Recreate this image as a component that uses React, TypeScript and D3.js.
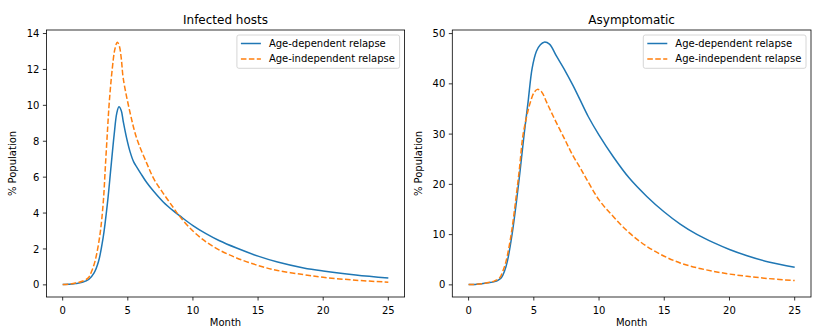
import React from "react";
import * as d3 from "d3";

const W = 823;
const H = 336;

const seriesNames = ["Age-dependent relapse", "Age-independent relapse"];
const xTicks = [0, 5, 10, 15, 20, 25];
const leftYTicks = [0, 2, 4, 6, 8, 10, 12, 14];
const rightYTicks = [0, 10, 20, 30, 40, 50];

// Infected hosts - age-dependent
const infDepT = [0, 0.5, 1, 1.5, 2, 2.4, 2.75, 3.1, 3.45, 3.7, 3.95, 4.15, 4.32, 4.5, 4.65, 4.9, 5.17, 5.45, 5.7, 6, 6.45, 7, 7.72, 8.5, 9, 10, 11, 12, 13.35, 15, 16.5, 18.5, 20, 22.5, 25];
const infDepV = [0.02, 0.03, 0.07, 0.14, 0.3, 0.65, 1.3, 2.6, 4.64, 6.5, 8.35, 9.55, 9.92, 9.7, 9.1, 8.2, 7.42, 6.85, 6.55, 6.2, 5.7, 5.2, 4.62, 4.12, 3.84, 3.3, 2.85, 2.47, 2.05, 1.6, 1.27, 0.94, 0.77, 0.55, 0.38];
// Infected hosts - age-independent
const infIndT = [0, 0.5, 1, 1.5, 1.97, 2.2, 2.48, 2.86, 3.12, 3.27, 3.42, 3.58, 3.81, 4.0, 4.19, 4.35, 4.5, 4.65, 5.17, 5.68, 6.45, 7, 7.72, 8.5, 9, 10, 11, 12, 13.35, 15, 16.5, 18.5, 20, 22.5, 25];
const infIndV = [0.02, 0.04, 0.1, 0.2, 0.39, 0.72, 1.31, 2.79, 4.64, 6.5, 8.35, 10.2, 12.06, 13.1, 13.52, 13.3, 12.6, 11.5, 9.6, 8.17, 6.78, 5.9, 5.1, 4.3, 3.8, 3.0, 2.4, 1.95, 1.5, 1.08, 0.8, 0.57, 0.42, 0.26, 0.15];

// Asymptomatic - age-dependent
const asyDepT = [0, 0.5, 1, 1.5, 2, 2.25, 2.51, 2.75, 2.97, 3.33, 3.67, 3.97, 4.25, 4.56, 4.87, 5.2, 5.5, 5.79, 6.2, 6.74, 7.4, 8.02, 8.53, 9.17, 10, 11.09, 12.3, 13.66, 15, 16.22, 17.5, 18.78, 20, 21.35, 23, 25];
const asyDepV = [0.05, 0.08, 0.2, 0.4, 0.65, 0.9, 1.4, 2.7, 4.68, 9.98, 16.6, 23.2, 29.8, 36.4, 43.1, 46.5, 47.8, 48.3, 47.9, 45.5, 42.6, 39.6, 36.9, 33.5, 29.8, 25.5, 21.3, 17.6, 14.5, 12.1, 10.05, 8.4, 7.05, 5.8, 4.55, 3.5];
// Asymptomatic - age-independent
const asyIndT = [0, 0.5, 1, 1.5, 2, 2.38, 2.62, 2.87, 3.26, 3.6, 3.9, 4.17, 4.53, 4.74, 5.0, 5.28, 5.6, 5.97, 6.48, 7.4, 8.02, 8.53, 9.05, 10, 11.09, 12.3, 13.66, 15, 16.22, 17.5, 18.78, 20, 21.35, 23, 25];
const asyIndV = [0.05, 0.08, 0.2, 0.45, 0.8, 1.39, 2.7, 4.68, 9.98, 16.6, 23.2, 29.8, 34.4, 36.4, 38.2, 38.9, 38.4, 36.4, 33.6, 28.8, 25.6, 23.4, 21.0, 16.9, 13.6, 10.4, 7.66, 5.7, 4.36, 3.4, 2.7, 2.15, 1.7, 1.25, 0.85];

const COLORS = ["#1f77b4", "#ff7f0e"];
const FONT = "DejaVu Sans, sans-serif";

type PanelProps = {
  left: number;
  right: number;
  top: number;
  bottom: number;
  title: string;
  yTicks: number[];
  series: { t: number[]; v: number[] }[];
  legendWidth: number;
};

function Panel({ left, right, top, bottom, title, yTicks, series, legendWidth }: PanelProps) {
  const allV = series.flatMap((s) => s.v);
  const vmin = Math.min(0, d3.min(allV) as number);
  const vmax = d3.max(allV) as number;
  const pad = (vmax - vmin) * 0.05;
  const x = d3.scaleLinear().domain([-1.25, 26.25]).range([left, right]);
  const y = d3.scaleLinear().domain([vmin - pad, vmax + pad]).range([bottom, top]);
  const line = d3
    .line<[number, number]>()
    .x((d) => x(d[0]))
    .y((d) => y(d[1]))
    .curve(d3.curveCatmullRom.alpha(0.5));
  const cx = (left + right) / 2;
  const cy = (top + bottom) / 2;
  const lx = right - 5 - legendWidth;
  const ly = top + 5;
  return (
    <g>
      <text x={cx} y={24} textAnchor="middle" fontSize={12} fontFamily={FONT} fill="#000">
        {title}
      </text>
      {series.map((s, i) => (
        <path
          key={i}
          d={line(s.t.map((t, j) => [t, s.v[j]] as [number, number])) || ""}
          fill="none"
          stroke={COLORS[i]}
          strokeWidth={1.5}
          strokeDasharray={i === 1 ? "5.55,2.4" : undefined}
        />
      ))}
      <rect x={left} y={top} width={right - left} height={bottom - top} fill="none" stroke="#000" strokeWidth={0.8} />
      {xTicks.map((t) => (
        <g key={"x" + t}>
          <line x1={x(t)} x2={x(t)} y1={bottom} y2={bottom + 3.5} stroke="#000" strokeWidth={0.8} />
          <text x={x(t)} y={bottom + 7 + 9.5} textAnchor="middle" fontSize={10} fontFamily={FONT} fill="#000">
            {t}
          </text>
        </g>
      ))}
      {yTicks.map((t) => (
        <g key={"y" + t}>
          <line x1={left - 3.5} x2={left} y1={y(t)} y2={y(t)} stroke="#000" strokeWidth={0.8} />
          <text x={left - 7} y={y(t) + 3.6} textAnchor="end" fontSize={10} fontFamily={FONT} fill="#000">
            {t}
          </text>
        </g>
      ))}
      <text x={cx} y={326} textAnchor="middle" fontSize={10} fontFamily={FONT} fill="#000">
        Month
      </text>
      <text
        transform={`translate(${left - 30.5},${cy}) rotate(-90)`}
        textAnchor="middle"
        fontSize={10}
        fontFamily={FONT}
        fill="#000"
      >
        % Population
      </text>
      <rect x={lx} y={ly} width={legendWidth} height={33.3} rx={2} fill="#fff" fillOpacity={0.8} stroke="#ccc" strokeWidth={0.8} />
      {seriesNames.map((n, i) => (
        <g key={n}>
          <line
            x1={lx + 4}
            x2={lx + 24}
            y1={ly + 8.5 + i * 15.4}
            y2={ly + 8.5 + i * 15.4}
            stroke={COLORS[i]}
            strokeWidth={1.5}
            strokeDasharray={i === 1 ? "5.55,2.4" : undefined}
          />
          <text x={lx + 32} y={ly + 12 + i * 15.4} fontSize={10} fontFamily={FONT} fill="#000">
            {n}
          </text>
        </g>
      ))}
    </g>
  );
}

export default function App() {
  return (
    <svg width={W} height={H} style={{ position: "absolute", left: 0, top: 0, background: "#fff" }}>
      <rect x={0} y={0} width={W} height={H} fill="#fff" />
      <Panel
        left={46.4}
        right={404.6}
        top={30}
        bottom={297}
        title="Infected hosts"
        yTicks={leftYTicks}
        series={[
          { t: infDepT, v: infDepV },
          { t: infIndT, v: infIndV },
        ]}
        legendWidth={162.7}
      />
      <Panel
        left={452.3}
        right={811}
        top={30}
        bottom={297}
        title="Asymptomatic"
        yTicks={rightYTicks}
        series={[
          { t: asyDepT, v: asyDepV },
          { t: asyIndT, v: asyIndV },
        ]}
        legendWidth={162.7}
      />
    </svg>
  );
}
